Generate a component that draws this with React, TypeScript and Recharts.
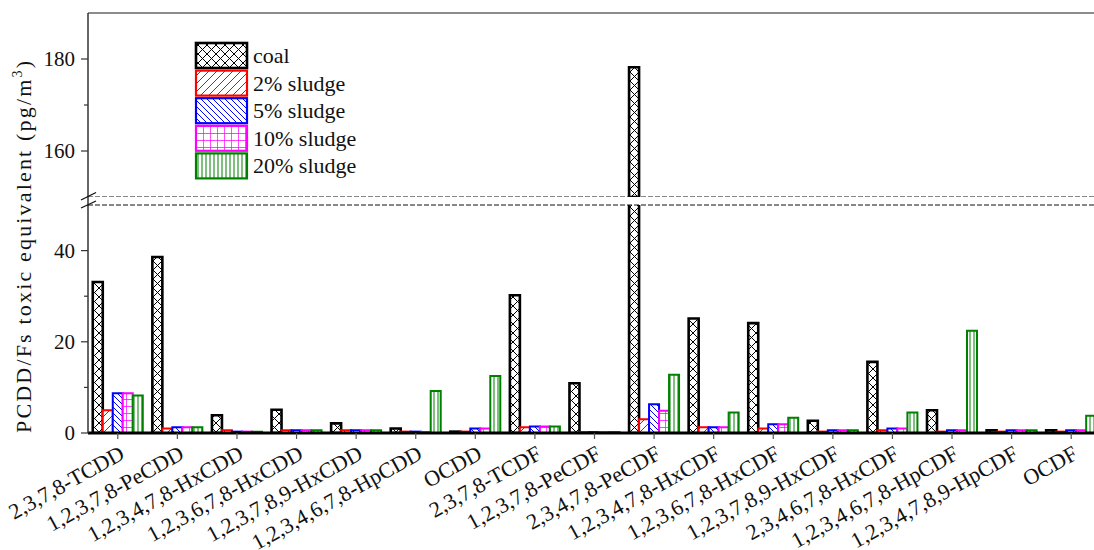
import React from "react";
import { Bar, BarChart, XAxis, YAxis, ReferenceLine } from "recharts";

const categories = [
  "2,3,7,8-TCDD",
  "1,2,3,7,8-PeCDD",
  "1,2,3,4,7,8-HxCDD",
  "1,2,3,6,7,8-HxCDD",
  "1,2,3,7,8,9-HxCDD",
  "1,2,3,4,6,7,8-HpCDD",
  "OCDD",
  "2,3,7,8-TCDF",
  "1,2,3,7,8-PeCDF",
  "2,3,4,7,8-PeCDF",
  "1,2,3,4,7,8-HxCDF",
  "1,2,3,6,7,8-HxCDF",
  "1,2,3,7,8,9-HxCDF",
  "2,3,4,6,7,8-HxCDF",
  "1,2,3,4,6,7,8-HpCDF",
  "1,2,3,4,7,8,9-HpCDF",
  "OCDF",
];

const coal = [33.1, 38.6, 3.9, 5.1, 2.1, 1.0, 0.3, 30.2, 10.9, 178.2, 25.1, 24.1, 2.7, 15.6, 5.0, 0.6, 0.6];
const sludge2 = [5.0, 1.0, 0.6, 0.6, 0.6, 0.3, 0.3, 1.25, 0.2, 3.0, 1.25, 1.0, 0.3, 0.6, 0.3, 0.3, 0.3];
const sludge5 = [8.7, 1.25, 0.3, 0.6, 0.6, 0.3, 1.0, 1.4, 0.2, 6.3, 1.25, 1.9, 0.6, 1.0, 0.6, 0.6, 0.6];
const sludge10 = [8.7, 1.25, 0.3, 0.6, 0.6, 0.2, 1.0, 1.4, 0.2, 4.9, 1.25, 1.9, 0.6, 1.0, 0.6, 0.6, 0.6];
const sludge20 = [8.2, 1.25, 0.3, 0.6, 0.6, 9.2, 12.5, 1.4, 0.2, 12.8, 4.5, 3.35, 0.6, 4.5, 22.4, 0.6, 3.8];

const lowerTicks = [0, 10, 20, 30, 40];
const upperTicks = [160, 170, 180];
const labelledTicks = [0, 20, 40, 160, 180];

const series = [
  { key: "coal", label: "coal", color: "#000000", values: coal },
  { key: "s2", label: "2% sludge", color: "#ff0000", values: sludge2 },
  { key: "s5", label: "5% sludge", color: "#0000ff", values: sludge5 },
  { key: "s10", label: "10% sludge", color: "#ff00ff", values: sludge10 },
  { key: "s20", label: "20% sludge", color: "#008000", values: sludge20 },
];

const LOW_DOMAIN = [0, 50];
const HIGH_DOMAIN = [150, 190];

const lowerData = categories.map((name, i) => {
  const row: any = { name };
  series.forEach((s) => (row[s.key] = s.values[i]));
  return row;
});

// the top panel only shows what rises above the break
const upperData = categories.map((name, i) => {
  const row: any = { name };
  series.forEach((s) => (row[s.key] = s.values[i] >= HIGH_DOMAIN[0] ? s.values[i] : null));
  return row;
});

const FONT = "'Liberation Serif', 'Times New Roman', serif";
const PLOT_LEFT = 88;
const CHART_W = 1110;

const YTick = (props: any) => {
  const { y, payload } = props;
  const major = labelledTicks.includes(payload.value);
  return (
    <g>
      <line x1={PLOT_LEFT - (major ? 7 : 4)} x2={PLOT_LEFT} y1={y} y2={y} stroke="#333" strokeWidth={1.2} />
      {major && (
        <text x={PLOT_LEFT - 13} y={y} dy={7} textAnchor="end" fontSize={21} fontFamily={FONT} fill="#111">
          {payload.value}
        </text>
      )}
    </g>
  );
};

const XTick = (props: any) => {
  const { x, y, payload } = props;
  return (
    <g transform={`translate(${x + 8},${y + 19})`}>
      <text textAnchor="end" transform="rotate(-29)" fontSize={22} fontFamily={FONT} fill="#111">
        {payload.value}
      </text>
    </g>
  );
};

const Patterns = () => (
  <defs>
    <pattern id="pat-coal" width={9} height={9} patternUnits="userSpaceOnUse">
      <rect width={9} height={9} fill="#fff" />
      <path d="M0,0 L9,9 M9,0 L0,9" stroke="#000" strokeWidth={1} />
    </pattern>
    <pattern id="pat-s2" width={8} height={8} patternUnits="userSpaceOnUse">
      <rect width={8} height={8} fill="#fff" />
      <path d="M0,8 L8,0 M-2,2 L2,-2 M6,10 L10,6" stroke="#ff0000" strokeWidth={1} />
    </pattern>
    <pattern id="pat-s5" width={6} height={6} patternUnits="userSpaceOnUse">
      <rect width={6} height={6} fill="#fff" />
      <path d="M0,0 L6,6 M-2,4 L2,8 M4,-2 L8,2" stroke="#0000ff" strokeWidth={1} />
    </pattern>
    <pattern id="pat-s10" width={7} height={7} patternUnits="userSpaceOnUse">
      <rect width={7} height={7} fill="#fff" />
      <path d="M0,0 L7,0 M0,0 L0,7" stroke="#ff00ff" strokeWidth={1.4} />
    </pattern>
    <pattern id="pat-s20" width={4} height={4} patternUnits="userSpaceOnUse">
      <rect width={4} height={4} fill="#fff" />
      <path d="M2,0 L2,4" stroke="#008000" strokeWidth={1} />
    </pattern>
  </defs>
);

const bars = () =>
  series.map((s) => (
    <Bar
      key={s.key}
      dataKey={s.key}
      name={s.label}
      fill={`url(#pat-${s.key})`}
      stroke={s.color}
      strokeWidth={s.key === "coal" ? 2.6 : 2}
      isAnimationActive={false}
    />
  ));

const Overlay = () => (
  <svg width={1094} height={550} style={{ position: "absolute", left: 0, top: 0, pointerEvents: "none" }}>
    <Patterns />
    {/* y axis title */}
    <text
      transform="translate(31,247) rotate(-90)"
      textAnchor="middle"
      fontSize={22}
      fontFamily={FONT}
      fill="#111"
      textLength={372}
      lengthAdjust="spacing"
    >
      PCDD/Fs toxic equivalent (pg/m
      <tspan dy={-9} fontSize={14}>3</tspan>
      <tspan dy={9}>)</tspan>
    </text>
    {/* axis break marks */}
    <line x1={PLOT_LEFT} x2={PLOT_LEFT} y1={196} y2={206} stroke="#333" strokeWidth={1.5} />
    <line x1={81} y1={200} x2={96} y2={192.5} stroke="#111" strokeWidth={1.3} />
    <line x1={81} y1={208} x2={96} y2={201} stroke="#111" strokeWidth={1.3} />
    {/* legend */}
    {series.map((s, i) => {
      const top = 43 + i * 27.6;
      return (
        <g key={s.key}>
          <rect x={196} y={top} width={51} height={25} fill={`url(#pat-${s.key})`} stroke={s.color} strokeWidth={s.key === "coal" ? 2.6 : 2.2} />
          <text x={253} y={top + 20} fontSize={22} fontFamily={FONT} fill="#111">
            {s.label}
          </text>
        </g>
      );
    })}
  </svg>
);

export default function App() {
  return (
    <div style={{ position: "absolute", left: 0, top: 0, width: 1094, height: 550, overflow: "hidden", background: "#fff" }}>
      <div style={{ position: "absolute", left: 0, top: 0 }}>
        <BarChart
          width={CHART_W}
          height={550}
          data={lowerData}
          margin={{ top: 205, right: 9, bottom: 0, left: 0 }}
          barCategoryGap="8%"
          barGap={0}
        >
          <XAxis
            dataKey="name"
            interval={0}
            height={117}
            tick={XTick}
            tickSize={6}
            tickMargin={0}
            tickLine={{ stroke: "#555", strokeWidth: 1.2 }}
            axisLine={{ stroke: "#000", strokeWidth: 3 }}
          />
          <YAxis
            width={PLOT_LEFT}
            domain={LOW_DOMAIN}
            allowDataOverflow
            ticks={lowerTicks}
            tick={YTick}
            tickLine={false}
            axisLine={{ stroke: "#333", strokeWidth: 1.5 }}
          />
          <ReferenceLine y={50} stroke="#111" strokeDasharray="5 2" strokeWidth={1} />
          {bars()}
        </BarChart>
      </div>
      <div style={{ position: "absolute", left: 0, top: 0 }}>
        <BarChart
          width={CHART_W}
          height={197}
          data={upperData}
          margin={{ top: 13, right: 9, bottom: 0, left: 0 }}
          barCategoryGap="8%"
          barGap={0}
        >
          <XAxis dataKey="name" hide />
          <YAxis
            width={PLOT_LEFT}
            domain={HIGH_DOMAIN}
            allowDataOverflow
            ticks={upperTicks}
            tick={YTick}
            tickLine={false}
            axisLine={{ stroke: "#333", strokeWidth: 1.5 }}
          />
          <ReferenceLine y={190} stroke="#666" strokeWidth={1.5} />
          <ReferenceLine y={150} stroke="#111" strokeDasharray="5 2" strokeWidth={1} />
          {bars()}
        </BarChart>
      </div>
      <Overlay />
    </div>
  );
}
